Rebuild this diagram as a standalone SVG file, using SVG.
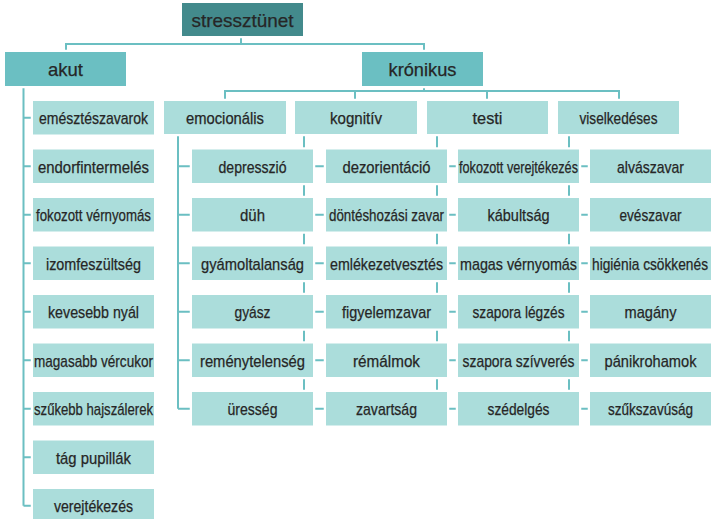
<svg xmlns="http://www.w3.org/2000/svg" width="712" height="519" viewBox="0 0 712 519">
<style>
rect{stroke:#fff;stroke-width:4.5;paint-order:stroke}
.d{fill:#438A8C}
.m{fill:#6BBFC2}
.l{fill:#ABDDDB}
text{font-family:"Liberation Sans",Arial,sans-serif;font-size:17px;fill:#262626;text-anchor:middle;stroke:#262626;stroke-width:0.25}
.big{font-size:19px}
#conn path{fill:none;stroke:#6BBFC2;stroke-width:2}
</style>
<rect width="712" height="519" fill="#fff" stroke="none"/>
<g id="conn">
<path d="M241 36V44M66 52V44H424V52M424 86V91M225 101V91H619V101M355 91V101M487 91V101"/>
<path d="M23.5 86V505.75M23.5 117.75H33M23.5 166.25H33M23.5 214.75H33M23.5 263.25H33M23.5 311.75H33M23.5 360.25H33M23.5 408.75H33M23.5 457.25H33M23.5 505.75H33"/>
<path d="M178 134V408.75M178 166.25H192M178 214.75H192M178 263.25H192M178 311.75H192M178 360.25H192M178 408.75H192"/>
<path d="M304 134V408.75M304 166.25H326M304 214.75H326M304 263.25H326M304 311.75H326M304 360.25H326M304 408.75H326"/>
<path d="M437 134V408.75M437 166.25H458M437 214.75H458M437 263.25H458M437 311.75H458M437 360.25H458M437 408.75H458"/>
<path d="M569 134V408.75M569 166.25H590M569 214.75H590M569 263.25H590M569 311.75H590M569 360.25H590M569 408.75H590"/>
</g>
<g id="stressztunet"><rect class="d" x="182" y="3" width="121" height="33"/><text class="big" x="242.5" y="27" textLength="102" lengthAdjust="spacingAndGlyphs">stressztünet</text></g>
<g id="akut"><rect class="m" x="5" y="52" width="121" height="34"/><text class="big" x="65.5" y="76" textLength="35" lengthAdjust="spacingAndGlyphs">akut</text></g>
<g id="kronikus"><rect class="m" x="362" y="52" width="121" height="34"/><text class="big" x="422.5" y="76" textLength="68" lengthAdjust="spacingAndGlyphs">krónikus</text></g>

<g id="emocionalis"><rect class="l" x="164" y="101" width="122" height="33"/><text x="225" y="124" textLength="78" lengthAdjust="spacingAndGlyphs">emocionális</text></g>
<g id="kognitiv"><rect class="l" x="295" y="101" width="122" height="33"/><text x="356" y="124" textLength="52" lengthAdjust="spacingAndGlyphs">kognitív</text></g>
<g id="testi"><rect class="l" x="427" y="101" width="121" height="33"/><text x="487.5" y="124" textLength="30" lengthAdjust="spacingAndGlyphs">testi</text></g>
<g id="viselkedeses"><rect class="l" x="558" y="101" width="121" height="33"/><text x="618.5" y="124" textLength="78" lengthAdjust="spacingAndGlyphs">viselkedéses</text></g>

<g id="a1"><rect class="l" x="33" y="101" width="121" height="33.5"/><text x="93.5" y="124" textLength="109" lengthAdjust="spacingAndGlyphs">emésztészavarok</text></g>
<g id="a2"><rect class="l" x="33" y="149.5" width="121" height="33.5"/><text x="93.5" y="172.5" textLength="111" lengthAdjust="spacingAndGlyphs">endorfintermelés</text></g>
<g id="a3"><rect class="l" x="33" y="198" width="121" height="33.5"/><text x="93.5" y="221" textLength="115" lengthAdjust="spacingAndGlyphs">fokozott vérnyomás</text></g>
<g id="a4"><rect class="l" x="33" y="246.5" width="121" height="33.5"/><text x="93.5" y="269.5" textLength="95" lengthAdjust="spacingAndGlyphs">izomfeszültség</text></g>
<g id="a5"><rect class="l" x="33" y="295" width="121" height="33.5"/><text x="93.5" y="318" textLength="91" lengthAdjust="spacingAndGlyphs">kevesebb nyál</text></g>
<g id="a6"><rect class="l" x="33" y="343.5" width="121" height="33.5"/><text x="93.5" y="366.5" textLength="119" lengthAdjust="spacingAndGlyphs">magasabb vércukor</text></g>
<g id="a7"><rect class="l" x="33" y="392" width="121" height="33.5"/><text x="93.5" y="415" textLength="119" lengthAdjust="spacingAndGlyphs">szűkebb hajszálerek</text></g>
<g id="a8"><rect class="l" x="33" y="440.5" width="121" height="33.5"/><text x="93.5" y="463.5" textLength="75" lengthAdjust="spacingAndGlyphs">tág pupillák</text></g>
<g id="a9"><rect class="l" x="33" y="489" width="121" height="33.5"/><text x="93.5" y="512" textLength="79" lengthAdjust="spacingAndGlyphs">verejtékezés</text></g>

<g id="e1"><rect class="l" x="192" y="149.5" width="121" height="33.5"/><text x="252.5" y="172.5" textLength="68" lengthAdjust="spacingAndGlyphs">depresszió</text></g>
<g id="e2"><rect class="l" x="192" y="198" width="121" height="33.5"/><text x="252.5" y="221" textLength="25" lengthAdjust="spacingAndGlyphs">düh</text></g>
<g id="e3"><rect class="l" x="192" y="246.5" width="121" height="33.5"/><text x="252.5" y="269.5" textLength="103" lengthAdjust="spacingAndGlyphs">gyámoltalanság</text></g>
<g id="e4"><rect class="l" x="192" y="295" width="121" height="33.5"/><text x="252.5" y="318" textLength="36" lengthAdjust="spacingAndGlyphs">gyász</text></g>
<g id="e5"><rect class="l" x="192" y="343.5" width="121" height="33.5"/><text x="252.5" y="366.5" textLength="105" lengthAdjust="spacingAndGlyphs">reménytelenség</text></g>
<g id="e6"><rect class="l" x="192" y="392" width="121" height="33.5"/><text x="252.5" y="415" textLength="50" lengthAdjust="spacingAndGlyphs">üresség</text></g>

<g id="k1"><rect class="l" x="326" y="149.5" width="121" height="33.5"/><text x="386.5" y="172.5" textLength="88" lengthAdjust="spacingAndGlyphs">dezorientáció</text></g>
<g id="k2"><rect class="l" x="326" y="198" width="121" height="33.5"/><text x="386.5" y="221" textLength="115" lengthAdjust="spacingAndGlyphs">döntéshozási zavar</text></g>
<g id="k3"><rect class="l" x="326" y="246.5" width="121" height="33.5"/><text x="386.5" y="269.5" textLength="113" lengthAdjust="spacingAndGlyphs">emlékezetvesztés</text></g>
<g id="k4"><rect class="l" x="326" y="295" width="121" height="33.5"/><text x="386.5" y="318" textLength="89" lengthAdjust="spacingAndGlyphs">figyelemzavar</text></g>
<g id="k5"><rect class="l" x="326" y="343.5" width="121" height="33.5"/><text x="386.5" y="366.5" textLength="67" lengthAdjust="spacingAndGlyphs">rémálmok</text></g>
<g id="k6"><rect class="l" x="326" y="392" width="121" height="33.5"/><text x="386.5" y="415" textLength="61" lengthAdjust="spacingAndGlyphs">zavartság</text></g>

<g id="t1"><rect class="l" x="458" y="149.5" width="121" height="33.5"/><text x="518.5" y="172.5" textLength="119" lengthAdjust="spacingAndGlyphs">fokozott verejtékezés</text></g>
<g id="t2"><rect class="l" x="458" y="198" width="121" height="33.5"/><text x="518.5" y="221" textLength="62" lengthAdjust="spacingAndGlyphs">kábultság</text></g>
<g id="t3"><rect class="l" x="458" y="246.5" width="121" height="33.5"/><text x="518.5" y="269.5" textLength="117" lengthAdjust="spacingAndGlyphs">magas vérnyomás</text></g>
<g id="t4"><rect class="l" x="458" y="295" width="121" height="33.5"/><text x="518.5" y="318" textLength="92" lengthAdjust="spacingAndGlyphs">szapora légzés</text></g>
<g id="t5"><rect class="l" x="458" y="343.5" width="121" height="33.5"/><text x="518.5" y="366.5" textLength="112" lengthAdjust="spacingAndGlyphs">szapora szívverés</text></g>
<g id="t6"><rect class="l" x="458" y="392" width="121" height="33.5"/><text x="518.5" y="415" textLength="62" lengthAdjust="spacingAndGlyphs">szédelgés</text></g>

<g id="v1"><rect class="l" x="590" y="149.5" width="121" height="33.5"/><text x="650.5" y="172.5" textLength="67" lengthAdjust="spacingAndGlyphs">alvászavar</text></g>
<g id="v2"><rect class="l" x="590" y="198" width="121" height="33.5"/><text x="650.5" y="221" textLength="62" lengthAdjust="spacingAndGlyphs">evészavar</text></g>
<g id="v3"><rect class="l" x="590" y="246.5" width="121" height="33.5"/><text x="650" y="269.5" textLength="116" lengthAdjust="spacingAndGlyphs">higiénia csökkenés</text></g>
<g id="v4"><rect class="l" x="590" y="295" width="121" height="33.5"/><text x="650.5" y="318" textLength="52" lengthAdjust="spacingAndGlyphs">magány</text></g>
<g id="v5"><rect class="l" x="590" y="343.5" width="121" height="33.5"/><text x="650.5" y="366.5" textLength="92" lengthAdjust="spacingAndGlyphs">pánikrohamok</text></g>
<g id="v6"><rect class="l" x="590" y="392" width="121" height="33.5"/><text x="650.5" y="415" textLength="85" lengthAdjust="spacingAndGlyphs">szűkszavúság</text></g>
</svg>
